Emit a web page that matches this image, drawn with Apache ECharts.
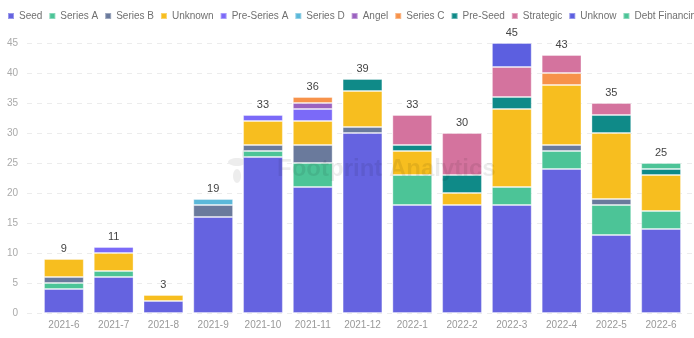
<!DOCTYPE html>
<html>
<head>
<meta charset="utf-8">
<script src="https://cdn.jsdelivr.net/npm/echarts@6/dist/echarts.min.js"></script>
<style>html,body{margin:0;padding:0;background:#fff;}#c{width:694px;height:338px;}</style>
</head>
<body>
<div id="c"></div>
<script>
const months = ['2021-6','2021-7','2021-8','2021-9','2021-10','2021-11','2021-12','2022-1','2022-2','2022-3','2022-4','2022-5','2022-6'];
const seed         = [4,6,2,16,26,21,30,18,18,18,24,13,14];
const seriesA      = [1,1,0,0,1,4,0,5,0,3,3,5,3];
const seriesB      = [1,0,0,2,1,3,1,0,0,0,1,1,0];
const unknown      = [3,3,1,0,4,4,6,4,2,13,10,11,6];
const preSeriesA   = [0,1,0,0,1,2,0,0,0,0,0,0,0];
const seriesD      = [0,0,0,1,0,0,0,0,0,0,0,0,0];
const angel        = [0,0,0,0,0,1,0,0,0,0,0,0,0];
const seriesC      = [0,0,0,0,0,1,0,0,0,0,2,0,0];
const preSeed      = [0,0,0,0,0,0,2,1,3,2,0,3,1];
const strategic    = [0,0,0,0,0,0,0,5,7,5,3,2,0];
const unknow       = [0,0,0,0,0,0,0,0,0,4,0,0,0];
const debtFinancing= [0,0,0,0,0,0,0,0,0,0,0,0,1];
const totals       = [9,11,3,19,33,36,39,33,30,45,43,35,25];
const yTicks = [0,5,10,15,20,25,30,35,40,45];

const seriesDefs = [
  ['Seed', seed, '#6563e0'],
  ['Series A', seriesA, '#4cc497'],
  ['Series B', seriesB, '#6a7a9c'],
  ['Unknown', unknown, '#f7be1f'],
  ['Pre-Series A', preSeriesA, '#7b6af8'],
  ['Series D', seriesD, '#5bb8d9'],
  ['Angel', angel, '#9b62c0'],
  ['Series C', seriesC, '#f7924a'],
  ['Pre-Seed', preSeed, '#0f8a88'],
  ['Strategic', strategic, '#d4739e'],
  ['Unknow', unknow, '#5c5fe0'],
  ['Debt Financing', debtFinancing, '#4cc497']
];

const FONT = 'Liberation Sans, Arial, sans-serif';
const series = seriesDefs.map(([name, arr, color]) => ({
  name, type: 'bar', stack: 'total', xAxisIndex: 1, yAxisIndex: 1,
  barCategoryGap: '20%',
  data: arr.map(v => v === 0 ? null : v),
  itemStyle: { color, borderColor: 'rgba(255,255,255,0.35)', borderWidth: 1 }
}));
series.push({
  name: 'total', type: 'bar', stack: 'total', xAxisIndex: 1, yAxisIndex: 1,
  data: totals.map(() => 0),
  itemStyle: { color: 'transparent' },
  label: { show: true, position: 'top', distance: 5, color: '#444', fontSize: 11, fontFamily: FONT,
    formatter: p => String(totals[p.dataIndex]) }
});

const chart = echarts.init(document.getElementById('c'), null, { renderer: 'canvas' });
chart.setOption({
  animation: false,
  backgroundColor: '#fff',
  legend: {
    data: seriesDefs.map(d => d[0]),
    left: 7, top: 11, width: 1000, padding: 0,
    icon: 'rect', itemWidth: 6, itemHeight: 6, itemGap: 6,
    textStyle: { color: '#707070', fontSize: 10, fontFamily: FONT }
  },
  grid: [
    { left: 27, right: 2, top: 43, bottom: 25 },
    { left: 39, right: 8, top: 43, bottom: 25 }
  ],
  xAxis: [
    { type: 'category', gridIndex: 0, data: months, show: false },
    { type: 'category', gridIndex: 1, data: months,
      axisLine: { show: false }, axisTick: { show: false },
      axisLabel: { color: '#999', fontSize: 10, fontFamily: FONT, margin: 7 } }
  ],
  yAxis: [
    { type: 'value', gridIndex: 0, min: yTicks[0], max: yTicks[yTicks.length-1], interval: 5,
      axisLine: { show: false }, axisTick: { show: false },
      axisLabel: { color: '#aaa', fontSize: 10, fontFamily: FONT, margin: 9 },
      splitLine: { lineStyle: { color: '#ececec', type: [5, 5] } } },
    { type: 'value', gridIndex: 1, min: yTicks[0], max: yTicks[yTicks.length-1], interval: 5, show: false,
      splitLine: { show: false } }
  ],
  graphic: [
    { type: 'group', left: 228, top: 148, z: 100, children: [
      { type: 'circle', shape: { cx: 24, cy: 20, r: 3 }, style: { fill: 'rgba(0,0,0,0.07)' } },
      { type: 'ellipse', shape: { cx: 12, cy: 14, rx: 9, ry: 4 }, style: { fill: 'rgba(0,0,0,0.07)' } },
      { type: 'ellipse', shape: { cx: 20, cy: 6, rx: 3, ry: 6 }, style: { fill: 'rgba(0,0,0,0.07)' } },
      { type: 'ellipse', shape: { cx: 12, cy: 28, rx: 4, ry: 7 }, style: { fill: 'rgba(0,0,0,0.07)' } },
      { type: 'circle', shape: { cx: 34, cy: 12, r: 2.5 }, style: { fill: 'rgba(0,0,0,0.07)' } },
      { type: 'circle', shape: { cx: 36, cy: 22, r: 2.5 }, style: { fill: 'rgba(0,0,0,0.07)' } },
      { type: 'circle', shape: { cx: 30, cy: 32, r: 2.5 }, style: { fill: 'rgba(0,0,0,0.07)' } },
      { type: 'circle', shape: { cx: 22, cy: 36, r: 2 }, style: { fill: 'rgba(0,0,0,0.07)' } }
    ]},
    { type: 'text', left: 277, top: 157, z: 100,
      style: { text: 'Footprint Analytics', fill: 'rgba(0,0,0,0.08)', font: 'bold 24px ' + FONT } }
  ],
  series
});
</script>
</body>
</html>
